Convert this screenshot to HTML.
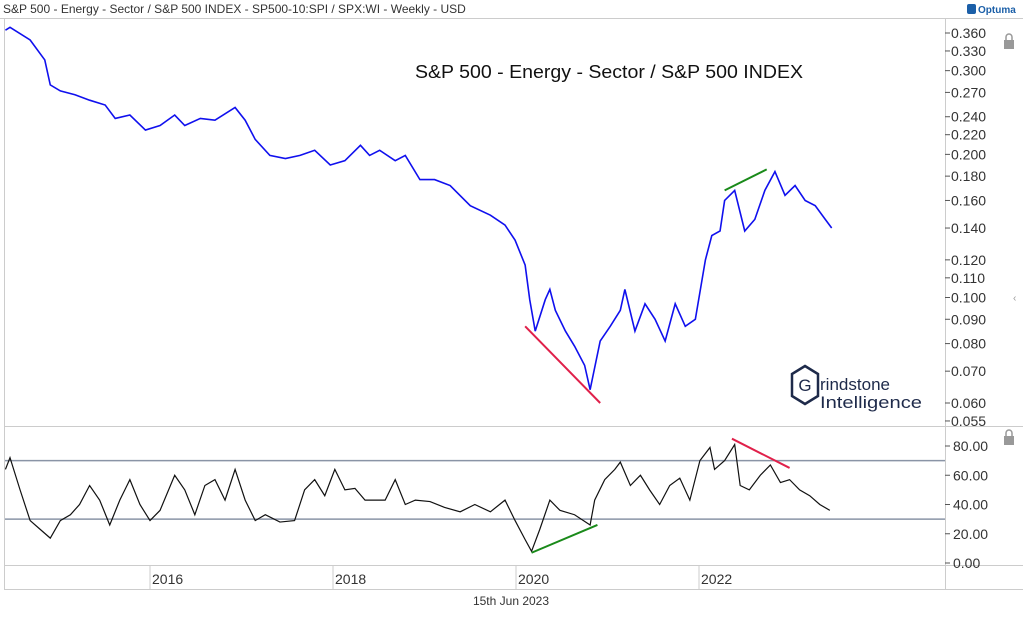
<!DOCTYPE html>
<html><head><meta charset="utf-8"><style>
body{margin:0;background:#fff;font-family:"Liberation Sans",sans-serif}
svg text{font-family:"Liberation Sans",sans-serif}
</style></head><body>
<svg id="c" width="1023" height="613" xmlns="http://www.w3.org/2000/svg">
<text x="3" y="13" font-size="12" fill="#333">S&amp;P 500 - Energy - Sector  / S&amp;P 500 INDEX - SP500-10:SPI / SPX:WI - Weekly - USD</text>
<g><rect x="967" y="4" width="9" height="10" rx="2" fill="#1b5fa8"/><text x="978" y="13" font-size="10" fill="#1b5fa8" font-weight="bold">Optuma</text></g>
<line x1="0" y1="18.5" x2="1023" y2="18.5" stroke="#ccc"/>
<line x1="945.5" y1="18" x2="945.5" y2="590" stroke="#ccc"/>
<line x1="5" y1="426.5" x2="1023" y2="426.5" stroke="#ccc"/>
<line x1="5" y1="565.5" x2="1023" y2="565.5" stroke="#ccc"/>
<line x1="5" y1="589.5" x2="1023" y2="589.5" stroke="#ccc"/>
<line x1="4.5" y1="18" x2="4.5" y2="590" stroke="#ccc"/>
<text x="609" y="78" font-size="18" fill="#111" text-anchor="middle" textLength="388" lengthAdjust="spacingAndGlyphs">S&amp;P 500 - Energy - Sector  / S&amp;P 500 INDEX</text>
<g>
<polygon points="805,366 818,374 818,396 805,404 792,396 792,374" fill="none" stroke="#1e2a4a" stroke-width="2.5"/>
<text x="805" y="391" font-size="17" fill="#1e2a4a" text-anchor="middle">G</text>
<text x="820" y="390" font-size="17" fill="#1e2a4a" textLength="70" lengthAdjust="spacingAndGlyphs">rindstone</text>
<text x="820" y="408" font-size="17" fill="#1e2a4a" textLength="102" lengthAdjust="spacingAndGlyphs">Intelligence</text></g>
<text x="511" y="605" font-size="12" fill="#333" text-anchor="middle">15th Jun 2023</text>
<g><rect x="1004" y="40" width="10" height="9" fill="#999"/><path d="M1006 40v-3a3 3 0 0 1 6 0v3" fill="none" stroke="#999" stroke-width="1.5"/></g>
<g><rect x="1004" y="436" width="10" height="9" fill="#999"/><path d="M1006 436v-3a3 3 0 0 1 6 0v3" fill="none" stroke="#999" stroke-width="1.5"/></g>
<text x="1013" y="301" font-size="10" fill="#999">‹</text>
<g id="g"></g>
</svg>
<script>
const priceDates=[2014.42,2014.47,2014.69,2014.85,2014.91,2015.02,2015.18,2015.34,2015.51,2015.62,2015.78,2015.95,2016.11,2016.27,2016.38,2016.55,2016.71,2016.93,2017.04,2017.15,2017.31,2017.48,2017.64,2017.80,2017.97,2018.13,2018.30,2018.40,2018.51,2018.68,2018.79,2018.95,2019.11,2019.28,2019.50,2019.72,2019.88,2019.99,2020.10,2020.15,2020.21,2020.32,2020.37,2020.43,2020.54,2020.64,2020.75,2020.81,2020.92,2021.03,2021.14,2021.19,2021.30,2021.41,2021.52,2021.63,2021.74,2021.85,2021.96,2022.07,2022.14,2022.23,2022.28,2022.39,2022.50,2022.61,2022.72,2022.83,2022.94,2023.05,2023.16,2023.27,2023.38,2023.45];
const priceValues=[.365,.37,.348,.316,.28,.272,.267,.260,.254,.238,.242,.225,.230,.242,.230,.238,.236,.251,.236,.215,.199,.196,.199,.204,.190,.194,.209,.199,.204,.194,.199,.177,.177,.172,.156,.149,.142,.132,.117,.099,.085,.099,.104,.094,.085,.079,.072,.064,.081,.087,.094,.104,.085,.097,.090,.081,.097,.087,.090,.120,.135,.138,.160,.168,.138,.146,.168,.184,.164,.172,.160,.156,.146,.140];
const rsiDates=[2014.42,2014.47,2014.58,2014.69,2014.80,2014.91,2015.02,2015.13,2015.23,2015.34,2015.45,2015.56,2015.67,2015.78,2015.89,2016.00,2016.11,2016.27,2016.38,2016.49,2016.60,2016.71,2016.82,2016.93,2017.04,2017.15,2017.26,2017.42,2017.58,2017.69,2017.80,2017.91,2018.02,2018.13,2018.24,2018.35,2018.46,2018.57,2018.68,2018.79,2018.90,2019.06,2019.22,2019.39,2019.55,2019.72,2019.88,2019.99,2020.10,2020.17,2020.26,2020.37,2020.48,2020.64,2020.81,2020.86,2020.97,2021.08,2021.14,2021.25,2021.36,2021.46,2021.57,2021.68,2021.79,2021.90,2022.01,2022.12,2022.17,2022.28,2022.39,2022.45,2022.55,2022.67,2022.78,2022.89,2022.99,2023.10,2023.21,2023.32,2023.43];
const rsiValues=[64,72,50,29,23,17,29,33,40,53,43,26,43,57,40,29,36,60,50,33,53,57,43,64,43,29,33,28,29,50,57,46,64,50,51,43,43,43,57,40,43,42,38,35,40,35,43,29,16,8,23,43,36,33,26,43,57,64,69,53,60,50,40,53,58,43,70,79,64,70,81,53,50,60,67,55,57,50,46,40,36];
const priceTicks=[0.360,0.330,0.300,0.270,0.240,0.220,0.200,0.180,0.160,0.140,0.120,0.110,0.100,0.090,0.080,0.070,0.060,0.055];
const rsiTicks=[0,20,40,60,80];
const yearTicks=[2016,2018,2020,2022];
const rsiBands=[30,70];
const trendLines=[{p:'top',c:'#e0204a',a:[2020.10,.087],b:[2020.92,.060]},{p:'top',c:'#1a8a1a',a:[2022.28,.168],b:[2022.74,.186]},
{p:'bot',c:'#1a8a1a',a:[2020.17,7],b:[2020.89,26]},{p:'bot',c:'#e0204a',a:[2022.36,85],b:[2022.99,65]}];
const X=t=>150+(t-2016)*91.5;
const YP=v=>33+206.5*Math.log(0.36/v);
const YR=v=>563-v*1.4625;
const g=document.getElementById('g');const NS='http://www.w3.org/2000/svg';
function mk(tag,at){const e=document.createElementNS(NS,tag);for(const k in at)e.setAttribute(k,at[k]);g.appendChild(e);return e;}
priceTicks.forEach(v=>{const y=YP(v);
 const l=mk('line',{x1:945,x2:950,y1:y,y2:y,stroke:'#555'});
 const t=mk('text',{x:951,y:y+5,'font-size':14,fill:'#333'});t.textContent=v.toFixed(3);});
rsiTicks.forEach(v=>{const y=YR(v);
 const l=mk('line',{x1:945,x2:950,y1:y,y2:y,stroke:'#555'});
 const t=mk('text',{x:953,y:y+5,'font-size':14,fill:'#333'});t.textContent=v.toFixed(2);});
yearTicks.forEach(yr=>{const x=X(yr);
 const l=mk('line',{x1:x,x2:x,y1:566,y2:589,stroke:'#ccc'});
 const t=mk('text',{x:x+2,y:584,'font-size':14,fill:'#333'});t.textContent=yr;});
rsiBands.forEach(v=>{const y=YR(v);const l=mk('line',{x1:5,x2:945,y1:y,y2:y,stroke:'#8a94a6','stroke-width':1.5});});
const pp=mk('polyline',{points:priceDates.map((d,i)=>X(d)+','+YP(priceValues[i])).join(' '),fill:'none',stroke:'#1010ee','stroke-width':1.6});

const rp=mk('polyline',{points:rsiDates.map((d,i)=>X(d)+','+YR(rsiValues[i])).join(' '),fill:'none',stroke:'#111','stroke-width':1.2});

trendLines.forEach(t=>{const f=t.p=='top'?YP:YR;const l=mk('line',{x1:X(t.a[0]),y1:f(t.a[1]),x2:X(t.b[0]),y2:f(t.b[1]),stroke:t.c,'stroke-width':2});
 });
</script>
</body></html>
